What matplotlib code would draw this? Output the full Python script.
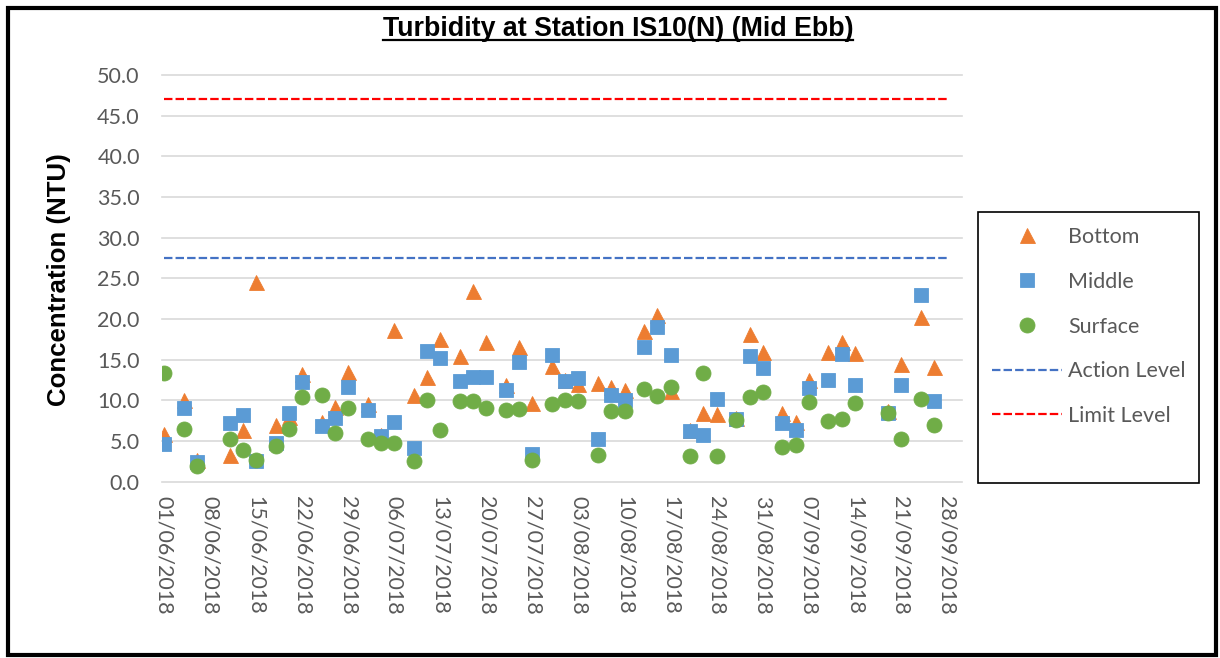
import matplotlib
matplotlib.use("Agg")
import matplotlib.pyplot as plt
from matplotlib.lines import Line2D
from matplotlib.patches import Rectangle
import pandas as pd

# Sampling dates (mid-ebb) and turbidity readings in NTU
dates = [
    "2018-06-01", "2018-06-04", "2018-06-06", "2018-06-11", "2018-06-13",
    "2018-06-15", "2018-06-18", "2018-06-20", "2018-06-22", "2018-06-25",
    "2018-06-27", "2018-06-29", "2018-07-02", "2018-07-04", "2018-07-06",
    "2018-07-09", "2018-07-11", "2018-07-13", "2018-07-16", "2018-07-18",
    "2018-07-20", "2018-07-23", "2018-07-25", "2018-07-27", "2018-07-30",
    "2018-08-01", "2018-08-03", "2018-08-06", "2018-08-08", "2018-08-10",
    "2018-08-13", "2018-08-15", "2018-08-17", "2018-08-20", "2018-08-22",
    "2018-08-24", "2018-08-27", "2018-08-29", "2018-08-31", "2018-09-03",
    "2018-09-05", "2018-09-07", "2018-09-10", "2018-09-12", "2018-09-14",
    "2018-09-19", "2018-09-21", "2018-09-24", "2018-09-26",
]
bottom = [
    5.9, 10.0, 2.7, 3.3, 6.3, 24.6, 7.0, 8.0, 13.2, 7.4,
    9.2, 13.5, 9.5, 5.8, 18.7, 10.6, 12.9, 17.6, 15.5, 23.4,
    17.2, 11.9, 16.5, 9.7, 14.2, 12.5, 12.0, 12.1, 11.7, 11.3,
    18.5, 20.5, 11.2, 6.4, 8.4, 8.3, 7.8, 18.1, 15.9, 8.5,
    7.4, 12.5, 15.9, 17.2, 15.8, 8.7, 14.5, 20.3, 14.1,
]
middle = [
    4.6, 9.1, 2.4, 7.2, 8.2, 2.6, 4.7, 8.5, 12.2, 6.9,
    7.8, 11.7, 8.8, 5.6, 7.3, 4.2, 16.1, 15.2, 12.4, 12.9,
    12.9, 11.3, 14.7, 3.4, 15.6, 12.4, 12.7, 5.2, 10.7, 10.0,
    16.5, 19.0, 15.6, 6.2, 5.8, 10.2, 7.7, 15.5, 14.0, 7.2,
    6.3, 11.5, 12.5, 15.7, 11.9, 8.5, 11.9, 22.9, 9.9,
]
surface = [
    13.4, 6.5, 1.9, 5.3, 3.9, 2.7, 4.4, 6.5, 10.4, 10.6,
    6.0, 9.1, 5.2, 4.7, 4.7, 2.6, 10.1, 6.4, 9.9, 9.9,
    9.0, 8.8, 8.9, 2.7, 9.6, 10.1, 9.9, 3.3, 8.7, 8.7,
    11.4, 10.5, 11.6, 3.2, 13.4, 3.2, 7.6, 10.4, 11.0, 4.3,
    4.5, 9.8, 7.5, 7.7, 9.7, 8.5, 5.2, 10.2, 7.0,
]

# Compliance levels, drawn across the reporting period
level_dates = ["2018-06-01", "2018-09-28"]
action_level = [27.5, 27.5]
limit_level = [47.0, 47.0]

y_ticks = [0, 5, 10, 15, 20, 25, 30, 35, 40, 45, 50]
tick_dates = pd.date_range("2018-06-01", "2018-09-28", freq="7D")

x = pd.to_datetime(dates)
xl = pd.to_datetime(level_dates)

W, H = 1220, 658
fig = plt.figure(figsize=(W / 100, H / 100), dpi=100)
fig.patch.set_facecolor("white")

ax = fig.add_axes([162 / W, 1 - 481.7 / H, 800 / W, (481.7 - 75) / H])

grey_text = "#595959"
grid_col = "#D9D9D9"
tick_font = "Lato"

for v in y_ticks:
    ax.axhline(v, color=grid_col, lw=1.2, zorder=0, clip_on=False)

ms = 10.8
ax.plot(x, bottom, ls="none", marker="^", ms=ms, color="#ED7D31",
        mec="#ED7D31", mew=0.6, zorder=3, label="Bottom")
ax.plot(x, middle, ls="none", marker="s", ms=ms * 0.98, color="#5B9BD5",
        mec="#5B9BD5", mew=0.6, zorder=4, label="Middle")
ax.plot(x, surface, ls="none", marker="o", ms=ms, color="#70AD47",
        mec="#70AD47", mew=0.6, zorder=5, label="Surface")
ax.plot(xl, action_level, color="#4472C4", lw=1.6, ls=(0, (3.8, 1.4)),
        zorder=2, label="Action Level")
ax.plot(xl, limit_level, color="#FF0000", lw=1.6, ls=(0, (3.8, 1.4)),
        zorder=2, label="Limit Level")

start = pd.Timestamp("2018-06-01")
ax.set_xlim(start - pd.Timedelta(days=0.3), start + pd.Timedelta(days=121.3))
ax.set_ylim(0, 50)

ax.set_yticks(y_ticks)
ax.set_yticklabels([f"{v:.1f}" for v in y_ticks], fontfamily=tick_font,
                   fontsize=15.5, color=grey_text)
ax.set_xticks(tick_dates)
ax.set_xticklabels([d.strftime("%d/%m/%Y") for d in tick_dates],
                   rotation=-90, fontfamily=tick_font, fontsize=15.5,
                   color=grey_text, ha="center", va="top")
ax.tick_params(axis="y", length=0, pad=16)
ax.tick_params(axis="x", length=0, pad=10)

for s in ["top", "right", "left", "bottom"]:
    ax.spines[s].set_visible(False)
ax.set_facecolor("none")

ax.set_ylabel("Concentration (NTU)", fontfamily="Liberation Sans",
              fontweight="bold", fontsize=18.6, color="black")
ax.yaxis.set_label_coords((71 - 162) / 800, (481.7 - 280) / 406.7)

title = fig.text(618 / W, 1 - 36 / H, "Turbidity at Station IS10(N) (Mid Ebb)",
                 ha="center", va="baseline", fontfamily="Liberation Sans",
                 fontweight="bold", fontsize=19.3, color="black")

# Legend: frame drawn separately so it can hold extra blank space below
leg_fs = 15.5
leg_px = leg_fs * 100 / 72
handles, labels = ax.get_legend_handles_labels()
leg = fig.legend(handles, labels, loc="upper left",
                 bbox_to_anchor=(992 / W, 1 - 227 / H),
                 frameon=False, borderpad=0, borderaxespad=0,
                 handlelength=70 / leg_px, handletextpad=6 / leg_px,
                 labelspacing=1.15, prop={"family": tick_font, "size": leg_fs})
for t in leg.get_texts():
    t.set_color(grey_text)

fig.add_artist(Rectangle((978 / W, 1 - 483 / H), (1199 - 978) / W, (483 - 212) / H,
                         transform=fig.transFigure, fill=False, ec="black", lw=1.2))

# Outer frame
fig.add_artist(Rectangle((7.5 / W, 1 - 654.5 / H), (1215.5 - 7.5) / W, (654.5 - 8) / H,
                         transform=fig.transFigure, fill=False, ec="black", lw=3.0))

# Underline the title just below its baseline
fig.canvas.draw()
bb = title.get_window_extent(fig.canvas.get_renderer()).transformed(fig.transFigure.inverted())
uy = 1 - 40 / H
fig.add_artist(Line2D([bb.x0, bb.x1], [uy, uy], transform=fig.transFigure,
                      color="black", lw=1.6))

fig.savefig("out.png", dpi=100)
